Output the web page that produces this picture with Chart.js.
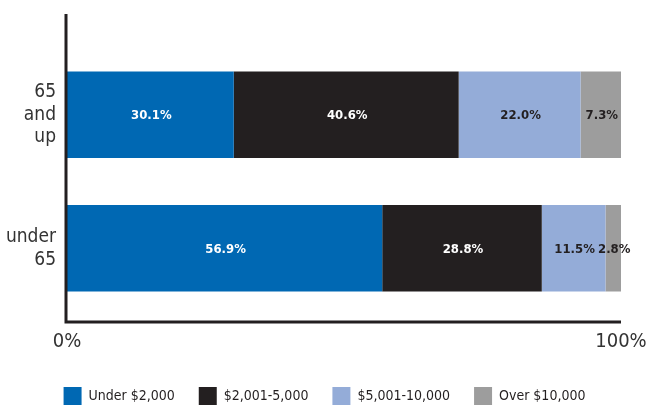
<!DOCTYPE html>
<html>
<head>
<meta charset="utf-8">
<script src="https://cdn.jsdelivr.net/npm/chart.js@4"></script>
<style>
  html, body { margin: 0; padding: 0; background: #fff; }
  #wrap { width: 649px; height: 409px; }
</style>
</head>
<body>
<div id="wrap"><canvas id="grafica"></canvas></div>
<script>
// datos
var grupos = [['65', 'and', 'up'], ['under', '65']];
var tramos = ['Under $2,000', '$2,001-5,000', '$5,001-10,000', 'Over $10,000'];
var under2000 = [30.1, 56.9];
var de2001a5000 = [40.6, 28.8];
var de5001a10000 = [22.0, 11.5];
var over10000 = [7.3, 2.8];
var colores = ['#0068b3', '#231f20', '#94acd8', '#9d9d9d'];
var coloresTexto = ['#ffffff', '#ffffff', '#231f20', '#231f20'];
var ticksX = [0, 100];

var fuente = "'Liberation Sans Narrow', 'DejaVu Sans Condensed', sans-serif";
Chart.defaults.font.family = fuente;
Chart.defaults.color = '#333';

// etiquetas de porcentaje dentro de cada tramo
var etiquetas = {
    id: 'etiquetas',
    afterDatasetsDraw: function (chart) {
        var ctx = chart.ctx;
        ctx.save();
        ctx.font = 'bold 13px ' + fuente;
        ctx.textAlign = 'center';
        ctx.textBaseline = 'middle';
        chart.data.datasets.forEach(function (ds, i) {
            var meta = chart.getDatasetMeta(i);
            meta.data.forEach(function (bar, j) {
                ctx.fillStyle = coloresTexto[i];
                ctx.fillText(ds.data[j].toFixed(1) + '%', (bar.x + bar.base) / 2 + 1, bar.y + 1);
            });
        });
        ctx.restore();
    }
};

// ejes dibujados a mano (se alargan un poco fuera del área)
var ejes = {
    id: 'ejes',
    afterDraw: function (chart) {
        var a = chart.chartArea;
        var ctx = chart.ctx;
        ctx.save();
        ctx.strokeStyle = '#231f20';
        ctx.lineWidth = 3;
        ctx.beginPath();
        ctx.moveTo(a.left - 1, a.top - 34);
        ctx.lineTo(a.left - 1, a.bottom + 7);
        ctx.lineTo(a.right, a.bottom + 7);
        ctx.stroke();
        ctx.restore();
    }
};

var series = [under2000, de2001a5000, de5001a10000, over10000];
var gx = document.getElementById('grafica').getContext('2d');
var grafica = new Chart(gx, {
    type: 'bar',
    data: {
        labels: grupos,
        datasets: series.map(function (d, i) {
            return {
                label: tramos[i],
                data: d,
                backgroundColor: colores[i],
                borderWidth: 0,
                barPercentage: 0.647,
                categoryPercentage: 1
            };
        })
    },
    options: {
        indexAxis: 'y',
        responsive: true,
        maintainAspectRatio: false,
        animation: false,
        layout: { padding: { top: 48, right: 0, left: 0, bottom: -6 } },
        scales: {
            x: {
                stacked: true,
                min: 0,
                max: 100,
                afterBuildTicks: function (scale) {
                    scale.ticks = ticksX.map(function (v) { return { value: v }; });
                },
                afterFit: function (scale) {
                    scale.height = 48;
                    scale.paddingRight = 28;
                    scale.paddingLeft = 0;
                },
                grid: { display: false, drawTicks: false },
                border: { display: false },
                ticks: {
                    padding: 15,
                    font: { size: 20 },
                    color: '#333',
                    maxRotation: 0,
                    callback: function (v) { return v + '%'; }
                }
            },
            y: {
                stacked: true,
                grid: { display: false, drawTicks: false },
                border: { display: false },
                afterFit: function (scale) { scale.width = 67; },
                ticks: {
                    padding: 11,
                    font: { size: 19, lineHeight: 1.2 },
                    color: '#333'
                }
            }
        },
        plugins: {
            legend: {
                position: 'bottom',
                labels: {
                    boxWidth: 18,
                    boxHeight: 18,
                    padding: 24,
                    color: '#231f20',
                    font: { size: 14 }
                }
            },
            tooltip: { enabled: false }
        }
    },
    plugins: [etiquetas, ejes]
});
</script>
</body>
</html>
